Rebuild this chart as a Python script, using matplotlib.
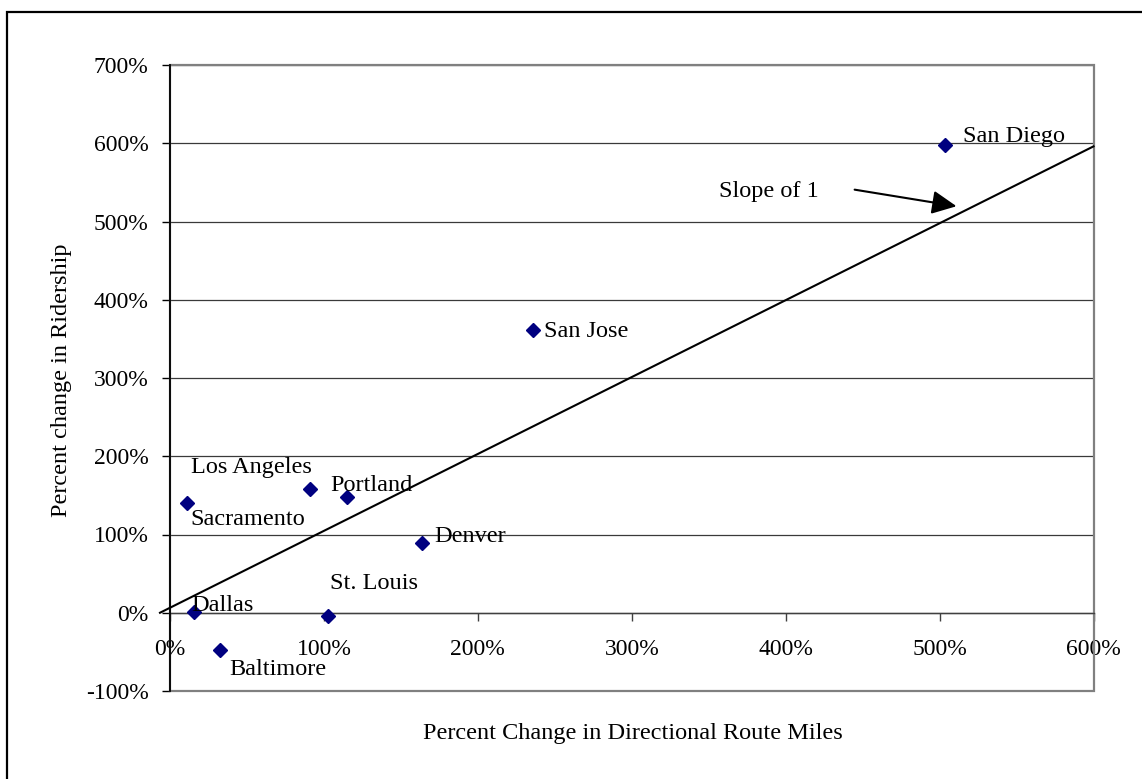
import matplotlib
matplotlib.use("Agg")
import matplotlib.pyplot as plt
from matplotlib.patches import Rectangle

plt.rcParams['font.family'] = ['Liberation Serif', 'DejaVu Serif']

cities = ["Sacramento", "Dallas", "Baltimore", "Los Angeles", "Portland",
          "St. Louis", "Denver", "San Jose", "San Diego"]
route_miles_change = [11.2, 15.4, 32.7, 90.7, 115.0, 102.4, 164.0, 235.7, 503.5]
ridership_change = [140.5, 1.0, -48.0, 158.0, 148.0, -4.6, 88.6, 361.0, 598.0]

x_ticks = [0, 100, 200, 300, 400, 500, 600]
y_ticks = [-100, 0, 100, 200, 300, 400, 500, 600, 700]

slope_x = [-6.5, 600]
slope_y = [0, 596]

# label positions (data coords, left edge / vertical center)
label_xy = {
    "Sacramento": (13.4, 119),
    "Dallas": (14.1, 9),
    "Baltimore": (38.3, -73),
    "Los Angeles": (13.4, 186),
    "Portland": (103.9, 163),
    "St. Louis": (103.9, 37),
    "Denver": (172, 98),
    "San Jose": (242.9, 360),
    "San Diego": (515, 609),
}

FS = 17.5
TFS = 17

fig = plt.figure(figsize=(11.42, 7.79), dpi=100)
ax = fig.add_axes([170/1142, 1-691/779, (1093.5-170)/1142, (691-65)/779])

ax.set_xlim(0, 600)
ax.set_ylim(-100, 700)

# outer chart border
fig.patches.append(Rectangle((7/1142, -0.1), 1.2, 1-12/779+0.1, transform=fig.transFigure,
                             fill=False, edgecolor='black', linewidth=1.6))

# gridlines
for v in y_ticks[1:]:
    ax.axhline(v, color='#3a3a3a', linewidth=0.9, zorder=1)

# frame
ax.add_patch(Rectangle((0, 0), 1, 1, transform=ax.transAxes, fill=False,
                       edgecolor='#808080', linewidth=1.6, clip_on=False, zorder=2))
for s in ['top', 'right']:
    ax.spines[s].set_visible(False)
ax.spines['left'].set_color('black')
ax.spines['left'].set_linewidth(1.3)
ax.spines['left'].set_zorder(3)
ax.spines['bottom'].set_position(('data', 0))
ax.spines['bottom'].set_color('#404040')
ax.spines['bottom'].set_linewidth(1.0)

ax.set_xticks(x_ticks)
ax.set_xticklabels([f"{v}%" for v in x_ticks])
ax.set_yticks(y_ticks)
ax.set_yticklabels([f"{v}%" for v in y_ticks])
ax.tick_params(axis='x', direction='out', length=6, width=1.0, color='#404040',
               pad=13, labelsize=TFS)
ax.tick_params(axis='y', direction='out', length=5.5, width=1.0, color='black',
               pad=10, labelsize=TFS)

# slope line
ax.plot(slope_x, slope_y, color='black', linewidth=1.5, clip_on=False, zorder=3)

# points
ax.plot(route_miles_change, ridership_change, linestyle='none', marker='D',
        markersize=7.5, color='#000080', zorder=4, clip_on=False)

for c in cities:
    lx, ly = label_xy[c]
    ax.text(lx, ly, c, fontsize=FS, ha='left', va='center', zorder=5)

# slope annotation
ax.text(356.5, 538, "Slope of 1", fontsize=FS, ha='left', va='center')
ax.annotate('', xy=(511, 519.5), xytext=(444.8, 540.7),
            arrowprops=dict(arrowstyle='-|>,head_length=0.75,head_width=0.36',
                            mutation_scale=20, color='black', linewidth=1.5,
                            shrinkA=0, shrinkB=0))

fig.text(62/1142, 1-380/779, "Percent change in Ridership", rotation=90,
         fontsize=FS, ha='center', va='center')
fig.text(633/1142, 1-733/779, "Percent Change in Directional Route Miles",
         fontsize=FS, ha='center', va='center')

fig.savefig("out.png", dpi=100)
